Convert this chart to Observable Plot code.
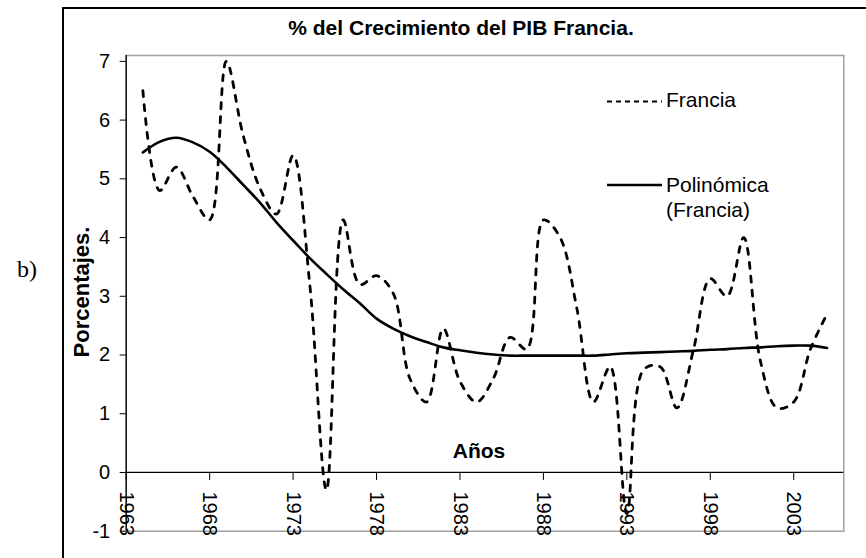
<!DOCTYPE html>
<html><head><meta charset="utf-8">
<script src="https://cdn.jsdelivr.net/npm/d3@7"></script>
<script src="https://cdn.jsdelivr.net/npm/@observablehq/plot@0.6"></script>
<style>
body{margin:0;background:#fff;}
#wrap{position:relative;width:866px;height:558px;overflow:hidden;background:#fff;}
#box{position:absolute;left:62px;top:7px;width:900px;height:700px;border-left:2px solid #000;border-top:2px solid #000;}
#chart{position:absolute;left:0;top:0;}
#overlay{position:absolute;left:0;top:0;pointer-events:none;}
</style></head><body>
<div id="wrap"><div id="box"></div><div id="chart"></div></div>
<script>
// ---- data ----
const years = d3.range(1964, 2006);
const francia = [6.5, 4.8, 5.2, 4.7, 4.3, 7.0, 5.75, 4.85, 4.4, 5.4,
                 3.2, -0.3, 4.3, 3.2, 3.35, 3.05, 1.6, 1.2, 2.45, 1.55,
                 1.2, 1.6, 2.3, 2.1, 4.3, 4.0, 2.8, 1.2, 1.8, -0.7,
                 1.75, 1.8, 1.1, 2.1, 3.3, 3.0, 4.0, 1.9, 1.1, 1.2,
                 2.1, 2.7];
const polinomica = [5.45, 5.63, 5.70, 5.62, 5.46, 5.20, 4.90, 4.60, 4.26, 3.95,
                    3.65, 3.38, 3.12, 2.88, 2.62, 2.45, 2.32, 2.22, 2.13, 2.08,
                    2.04, 2.01, 1.99, 1.99, 1.99, 1.99, 1.99, 1.99, 2.01, 2.03,
                    2.04, 2.05, 2.06, 2.07, 2.09, 2.10, 2.12, 2.13, 2.15, 2.16,
                    2.16, 2.12];
const xTicks = [1963, 1968, 1973, 1978, 1983, 1988, 1993, 1998, 2003];
const yTicks = [-1, 0, 1, 2, 3, 4, 5, 6, 7];
const xDomain = [1963, 2006];
const yDomain = [-1, 7.1];
const titleText = "% del Crecimiento del PIB Francia.";
const yLabel = "Porcentajes.";
const xLabel = "Años";
const seriesNames = ["Francia", "Polinómica", "(Francia)"];
const panelLabel = "b)";

const dataF = years.map((y, i) => ({year: y, v: francia[i]}));
const dataP = years.map((y, i) => ({year: y, v: polinomica[i]}));

// ---- layout ----
const W = 866, H = 558;
const mL = 125.7, mR = 22.7, mT = 55, mB = 27.3;
const yS = d3.scaleLinear().domain(yDomain).range([H - mB, mT]);
const axisOffset = yS(yDomain[0]) - yS(0);
const font = "'Liberation Sans', Arial, sans-serif";

const chart = Plot.plot({
  width: W, height: H,
  marginLeft: mL, marginRight: mR, marginTop: mT, marginBottom: mB,
  x: {domain: xDomain, label: null},
  y: {domain: yDomain, label: null},
  style: {fontFamily: font, background: "transparent", color: "#000"},
  marks: [
    Plot.frame({stroke: "#a0a0a0", strokeWidth: 1.5}),
    Plot.ruleX([xDomain[0]], {stroke: "#000", strokeWidth: 1.3}),
    Plot.ruleY([0], {stroke: "#000", strokeWidth: 1.3}),
    Plot.axisY(yTicks, {anchor: "left", tickSize: 6, tickPadding: 10, fontSize: 20,
      tickFormat: d => String(d), label: null}),
    Plot.axisX(xTicks, {anchor: "bottom", tickSize: 8, tickPadding: 11, tickRotate: 90,
      fontSize: 20, dy: -axisOffset, tickFormat: d => String(d), label: null}),
    Plot.line(dataP, {x: "year", y: "v", curve: "catmull-rom", stroke: "#000", strokeWidth: 2.6}),
    Plot.line(dataF, {x: "year", y: "v", curve: "catmull-rom", stroke: "#000", strokeWidth: 2.8,
      strokeDasharray: "6,8"})
  ]
});
document.getElementById("chart").appendChild(chart);

// ---- overlay texts & legend ----
const ov = d3.select("#wrap").append("svg").attr("id", "overlay")
  .attr("width", W).attr("height", H)
  .style("font-family", font);

ov.append("text").attr("x", 461).attr("y", 35).attr("text-anchor", "middle")
  .attr("font-size", 21).attr("font-weight", "bold").text(titleText);
ov.append("text").attr("transform", "translate(89,292) rotate(-90)").attr("text-anchor", "middle")
  .attr("font-size", 22).attr("font-weight", "bold").text(yLabel);
ov.append("text").attr("x", 479).attr("y", 458).attr("text-anchor", "middle")
  .attr("font-size", 21).attr("font-weight", "bold").text(xLabel);
ov.append("text").attr("x", 17).attr("y", 277).attr("font-family", "'Liberation Serif', 'Times New Roman', serif")
  .attr("font-size", 24).text(panelLabel);

const lg = ov.append("g");
lg.append("line").attr("x1", 607).attr("x2", 662).attr("y1", 101.5).attr("y2", 101.5)
  .attr("stroke", "#000").attr("stroke-width", 2.2).attr("stroke-dasharray", "5,4");
lg.append("text").attr("x", 666).attr("y", 107).attr("font-size", 21).text(seriesNames[0]);
lg.append("line").attr("x1", 607).attr("x2", 662).attr("y1", 185).attr("y2", 185)
  .attr("stroke", "#000").attr("stroke-width", 2.6);
lg.append("text").attr("x", 666).attr("y", 192).attr("font-size", 21).text(seriesNames[1]);
lg.append("text").attr("x", 666).attr("y", 217).attr("font-size", 21).text(seriesNames[2]);
</script>
</body></html>
